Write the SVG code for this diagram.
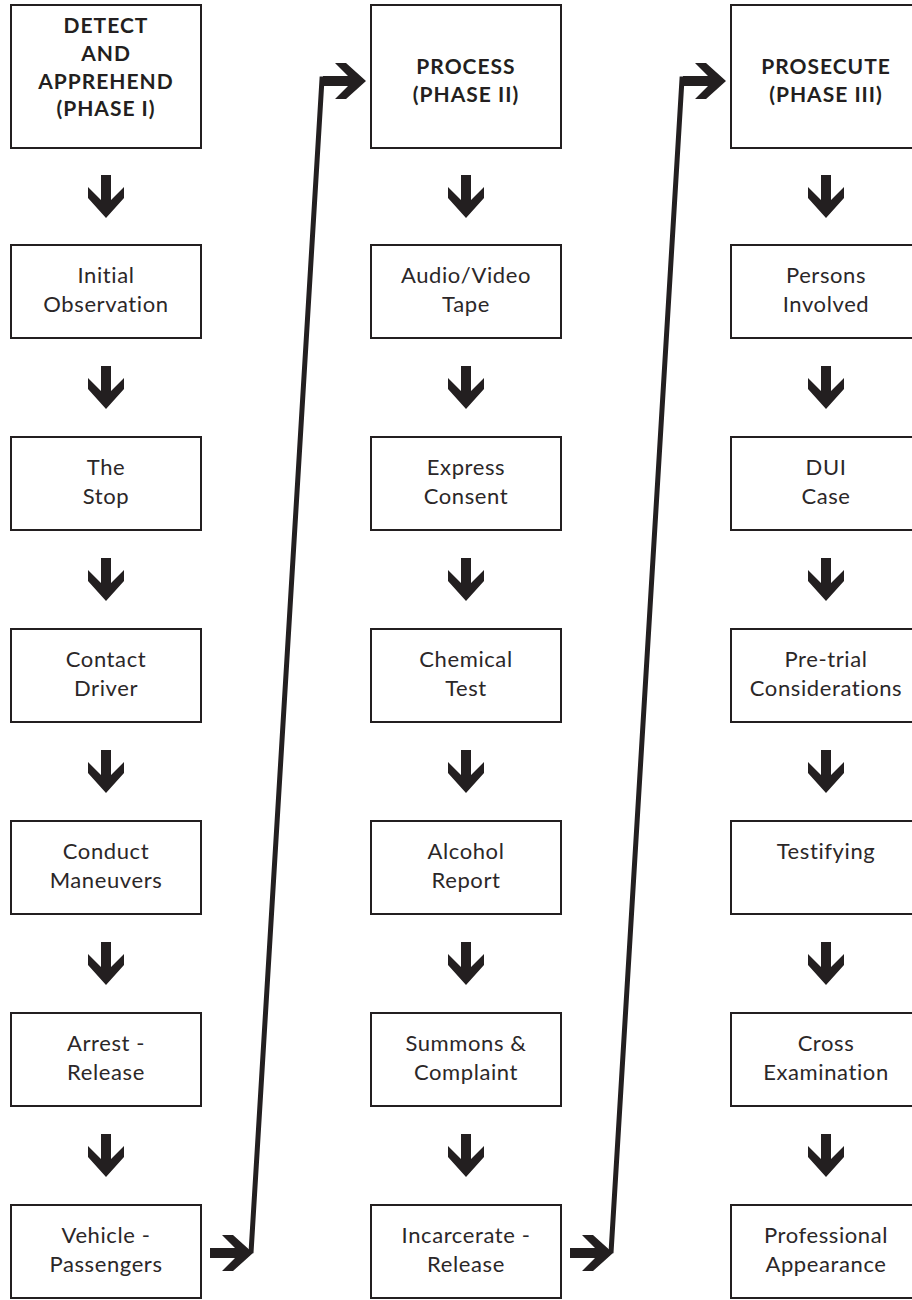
<svg xmlns="http://www.w3.org/2000/svg" xmlns:xlink="http://www.w3.org/1999/xlink" width="912" height="1300" viewBox="0 0 912 1300">
<style>
.box{fill:#fff;stroke:#231f20;stroke-width:2}
.hd{font-family:Lato,"Open Sans","Liberation Sans",sans-serif;font-weight:bold;font-size:21px;letter-spacing:1px;fill:#231f20;text-anchor:middle}
.tx{font-family:Lato,"Open Sans","Liberation Sans",sans-serif;font-weight:normal;font-size:22px;letter-spacing:0.6px;fill:#2b2728;text-anchor:middle}
.arr{fill:#231f20}
.ln{fill:none;stroke:#231f20;stroke-width:5;stroke-linejoin:miter}
</style>
<defs>
<path id="ad" class="arr" d="M-5,-43 H5 V-18 L18,-31 V-20 L0,0 L-18,-20 V-31 L-5,-18 Z"/>
</defs>
<rect width="912" height="1300" fill="#fff"/>

<g id="connectors">
<use xlink:href="#ad" transform="translate(106,218)"/>
<use xlink:href="#ad" transform="translate(106,409)"/>
<use xlink:href="#ad" transform="translate(106,601)"/>
<use xlink:href="#ad" transform="translate(106,793)"/>
<use xlink:href="#ad" transform="translate(106,985)"/>
<use xlink:href="#ad" transform="translate(106,1177)"/>
<use xlink:href="#ad" transform="translate(466,218)"/>
<use xlink:href="#ad" transform="translate(466,409)"/>
<use xlink:href="#ad" transform="translate(466,601)"/>
<use xlink:href="#ad" transform="translate(466,793)"/>
<use xlink:href="#ad" transform="translate(466,985)"/>
<use xlink:href="#ad" transform="translate(466,1177)"/>
<use xlink:href="#ad" transform="translate(826,218)"/>
<use xlink:href="#ad" transform="translate(826,409)"/>
<use xlink:href="#ad" transform="translate(826,601)"/>
<use xlink:href="#ad" transform="translate(826,793)"/>
<use xlink:href="#ad" transform="translate(826,985)"/>
<use xlink:href="#ad" transform="translate(826,1177)"/>
<use xlink:href="#ad" transform="translate(253,1253) rotate(-90)"/>
<polyline class="ln" points="251,1253 322,79 340,79"/>
<use xlink:href="#ad" transform="translate(366,81) rotate(-90)"/>
<use xlink:href="#ad" transform="translate(613,1253) rotate(-90)"/>
<polyline class="ln" points="611,1253 682,79 700,79"/>
<use xlink:href="#ad" transform="translate(726,81) rotate(-90)"/>
</g>

<g id="n-detect"><rect class="box" x="11" y="5" width="190" height="143"/>
<text class="hd" x="106" y="33">DETECT</text><text class="hd" x="106" y="61">AND</text><text class="hd" x="106" y="89">APPREHEND</text><text class="hd" x="106" y="116">(PHASE I)</text></g>
<g id="n-initial"><rect class="box" x="11" y="245" width="190" height="93"/>
<text class="tx" x="106" y="283">Initial</text><text class="tx" x="106" y="312">Observation</text></g>
<g id="n-stop"><rect class="box" x="11" y="437" width="190" height="93"/>
<text class="tx" x="106" y="475">The</text><text class="tx" x="106" y="504">Stop</text></g>
<g id="n-contact"><rect class="box" x="11" y="629" width="190" height="93"/>
<text class="tx" x="106" y="667">Contact</text><text class="tx" x="106" y="696">Driver</text></g>
<g id="n-conduct"><rect class="box" x="11" y="821" width="190" height="93"/>
<text class="tx" x="106" y="859">Conduct</text><text class="tx" x="106" y="888">Maneuvers</text></g>
<g id="n-arrest"><rect class="box" x="11" y="1013" width="190" height="93"/>
<text class="tx" x="106" y="1051">Arrest -</text><text class="tx" x="106" y="1080">Release</text></g>
<g id="n-vehicle"><rect class="box" x="11" y="1205" width="190" height="93"/>
<text class="tx" x="106" y="1243">Vehicle -</text><text class="tx" x="106" y="1272">Passengers</text></g>

<g id="n-process"><rect class="box" x="371" y="5" width="190" height="143"/>
<text class="hd" x="466" y="74">PROCESS</text><text class="hd" x="466" y="102">(PHASE II)</text></g>
<g id="n-audio"><rect class="box" x="371" y="245" width="190" height="93"/>
<text class="tx" x="466" y="283">Audio/Video</text><text class="tx" x="466" y="312">Tape</text></g>
<g id="n-express"><rect class="box" x="371" y="437" width="190" height="93"/>
<text class="tx" x="466" y="475">Express</text><text class="tx" x="466" y="504">Consent</text></g>
<g id="n-chemical"><rect class="box" x="371" y="629" width="190" height="93"/>
<text class="tx" x="466" y="667">Chemical</text><text class="tx" x="466" y="696">Test</text></g>
<g id="n-alcohol"><rect class="box" x="371" y="821" width="190" height="93"/>
<text class="tx" x="466" y="859">Alcohol</text><text class="tx" x="466" y="888">Report</text></g>
<g id="n-summons"><rect class="box" x="371" y="1013" width="190" height="93"/>
<text class="tx" x="466" y="1051">Summons &amp;</text><text class="tx" x="466" y="1080">Complaint</text></g>
<g id="n-incarcerate"><rect class="box" x="371" y="1205" width="190" height="93"/>
<text class="tx" x="466" y="1243">Incarcerate -</text><text class="tx" x="466" y="1272">Release</text></g>

<g id="n-prosecute"><rect class="box" x="731" y="5" width="190" height="143"/>
<text class="hd" x="826" y="74">PROSECUTE</text><text class="hd" x="826" y="102">(PHASE III)</text></g>
<g id="n-persons"><rect class="box" x="731" y="245" width="190" height="93"/>
<text class="tx" x="826" y="283">Persons</text><text class="tx" x="826" y="312">Involved</text></g>
<g id="n-dui"><rect class="box" x="731" y="437" width="190" height="93"/>
<text class="tx" x="826" y="475">DUI</text><text class="tx" x="826" y="504">Case</text></g>
<g id="n-pretrial"><rect class="box" x="731" y="629" width="190" height="93"/>
<text class="tx" x="826" y="667">Pre-trial</text><text class="tx" x="826" y="696">Considerations</text></g>
<g id="n-testifying"><rect class="box" x="731" y="821" width="190" height="93"/>
<text class="tx" x="826" y="859">Testifying</text></g>
<g id="n-cross"><rect class="box" x="731" y="1013" width="190" height="93"/>
<text class="tx" x="826" y="1051">Cross</text><text class="tx" x="826" y="1080">Examination</text></g>
<g id="n-professional"><rect class="box" x="731" y="1205" width="190" height="93"/>
<text class="tx" x="826" y="1243">Professional</text><text class="tx" x="826" y="1272">Appearance</text></g>
</svg>
